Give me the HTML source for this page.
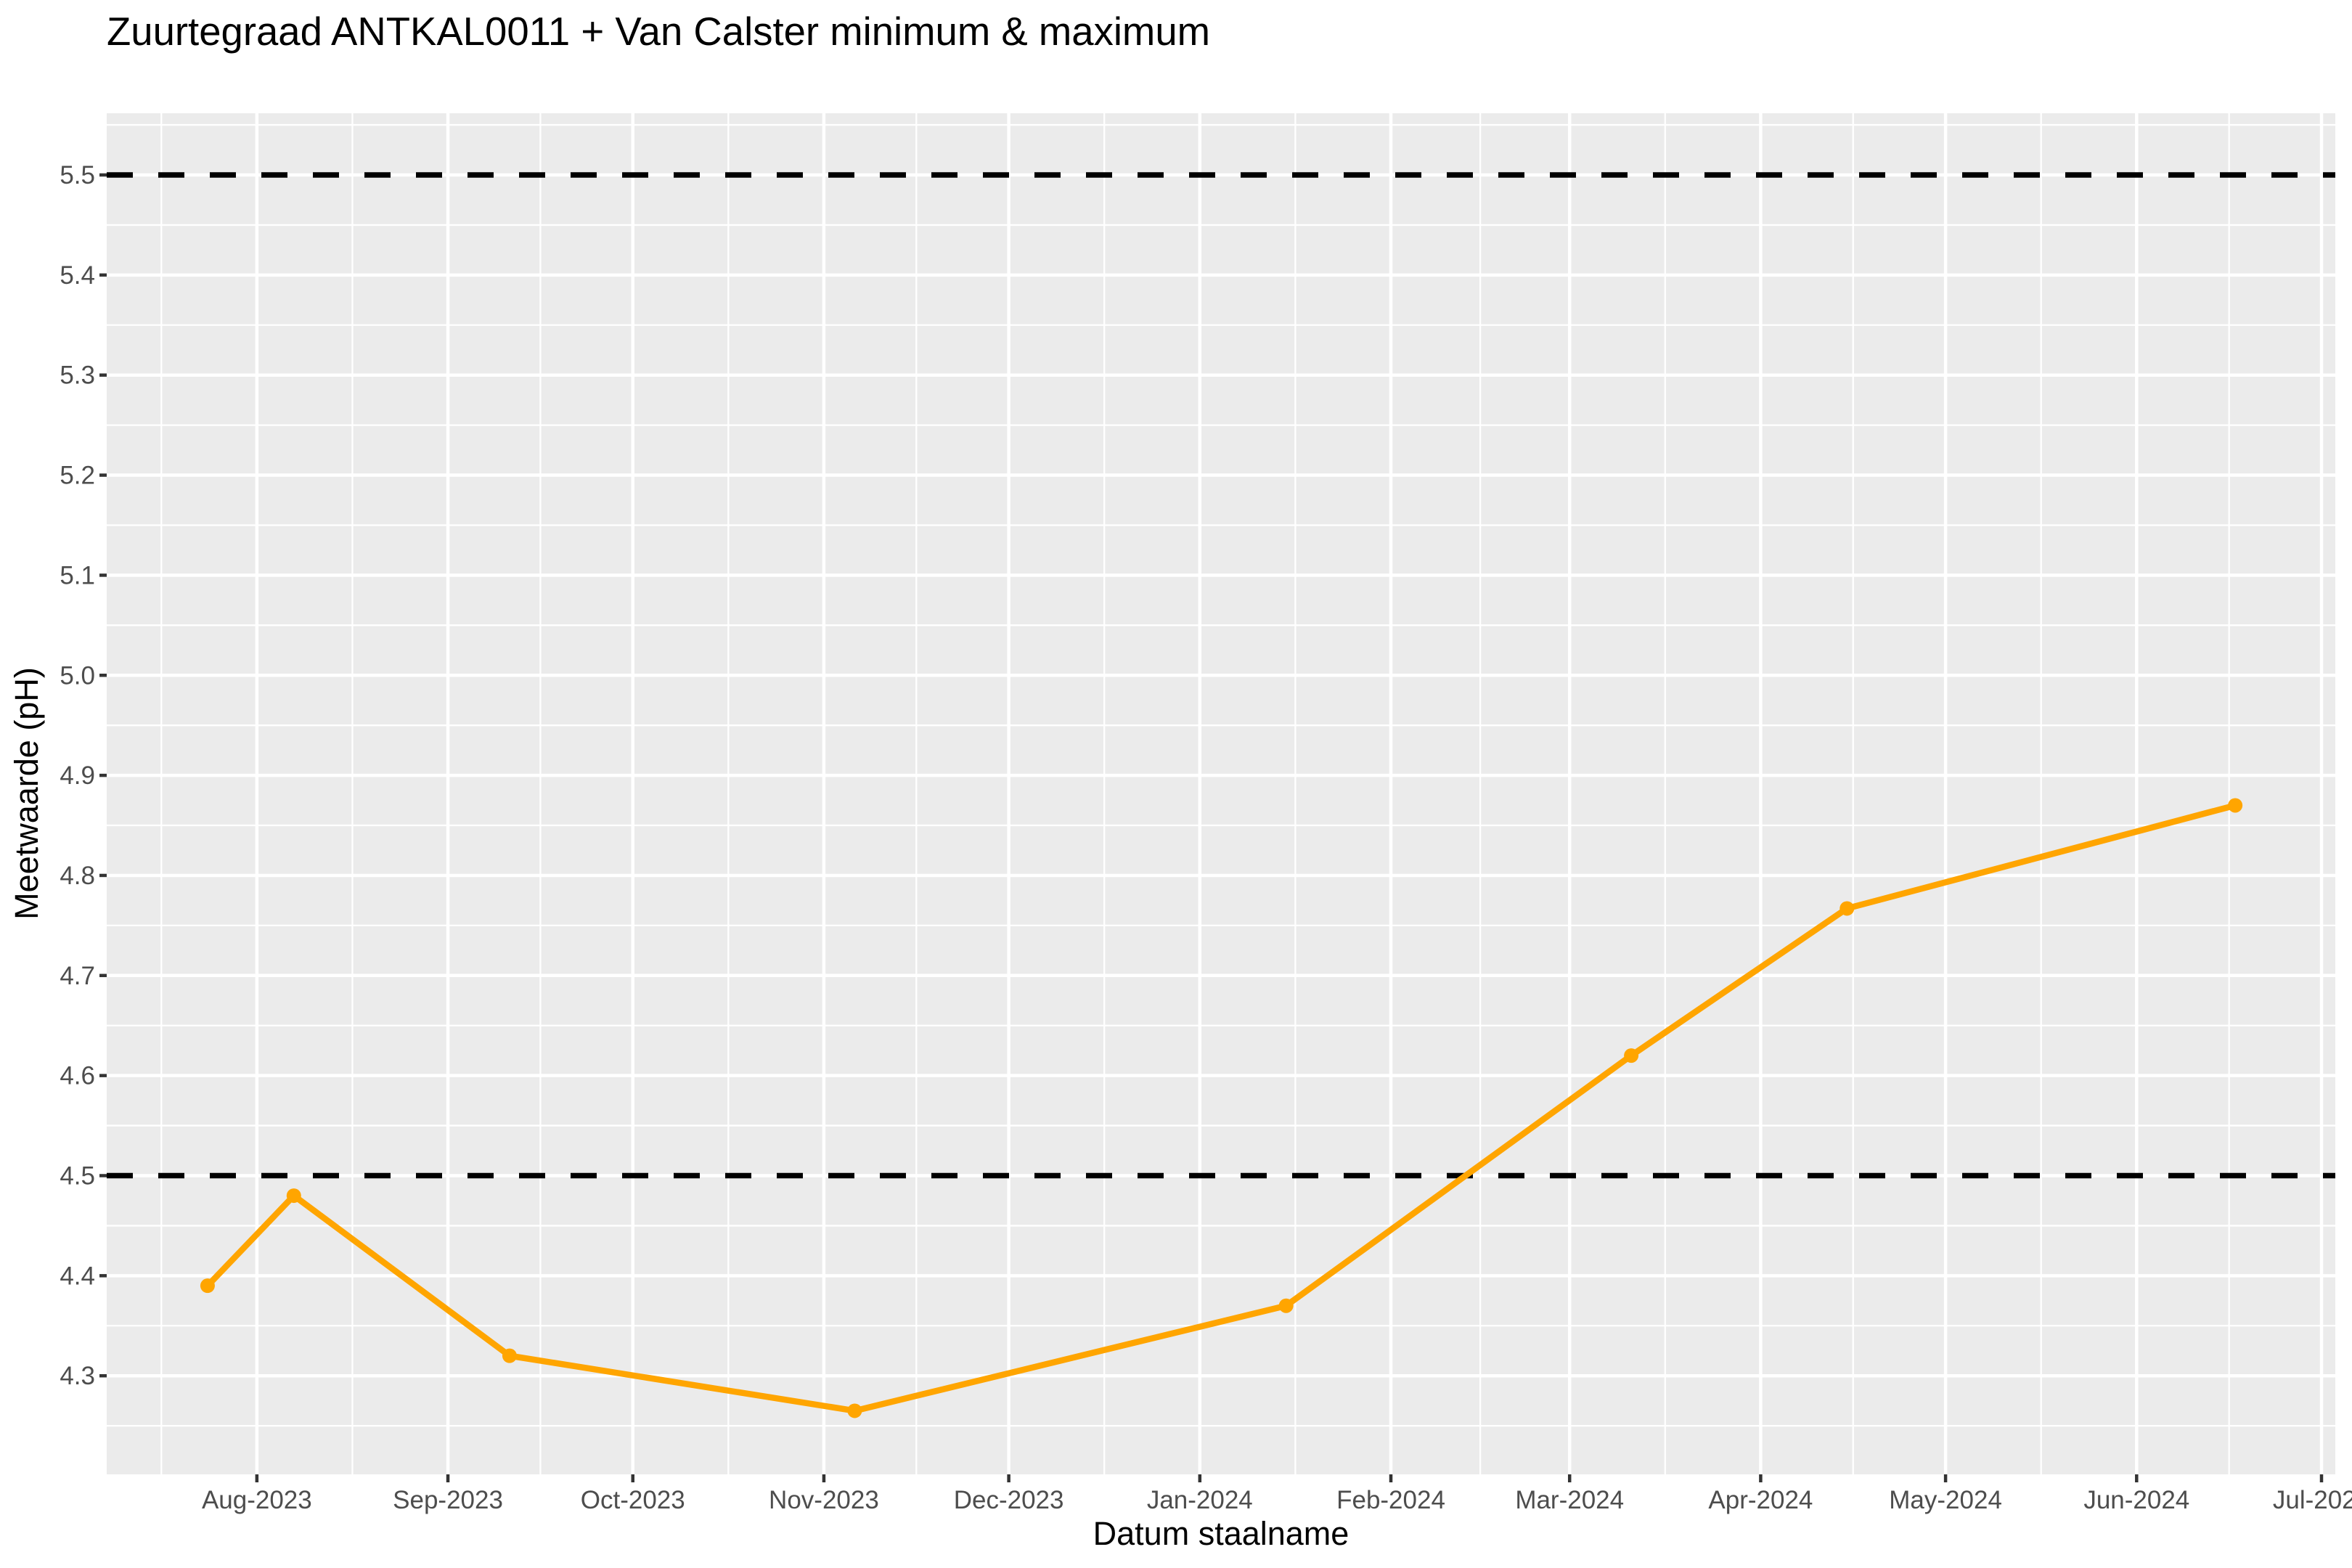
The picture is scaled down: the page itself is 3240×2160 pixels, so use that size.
<!DOCTYPE html>
<html><head><meta charset="utf-8"><style>
html,body{margin:0;padding:0;background:#fff;}
svg{display:block;font-family:"Liberation Sans",Arial,sans-serif;}
</style></head><body>
<svg id="chart" width="3240" height="2160" viewBox="0 0 3240 2160" xmlns="http://www.w3.org/2000/svg">
<text x="147" y="62" font-size="54.5" fill="#000">Zuurtegraad ANTKAL0011 + Van Calster minimum &amp; maximum</text>
<rect x="147" y="156" width="3070" height="1875" fill="#ebebeb"/>
<g id="grid"></g><g id="axes"></g><g id="marks"></g>
<text x="1682" y="2128" font-size="45" text-anchor="middle" fill="#000">Datum staalname</text>
<text transform="translate(52,1093) rotate(-90)" font-size="45" text-anchor="middle" fill="#000">Meetwaarde (pH)</text>
</svg>
<script>
const dates = ["2023-07-24","2023-08-07","2023-09-11","2023-11-06","2024-01-15","2024-03-11","2024-04-15","2024-06-17"];
const phValues = [4.39,4.48,4.32,4.265,4.37,4.62,4.767,4.87];
const limits = [4.5,5.5];
const yTicks = [4.3,4.4,4.5,4.6,4.7,4.8,4.9,5.0,5.1,5.2,5.3,5.4,5.5];
const xTickDates = ["2023-08-01","2023-09-01","2023-10-01","2023-11-01","2023-12-01","2024-01-01","2024-02-01","2024-03-01","2024-04-01","2024-05-01","2024-06-01","2024-07-01"];
const xTickLabels = ["Aug-2023","Sep-2023","Oct-2023","Nov-2023","Dec-2023","Jan-2024","Feb-2024","Mar-2024","Apr-2024","May-2024","Jun-2024","Jul-2024"];

const NS="http://www.w3.org/2000/svg";
const PL=147,PR=3217,PT=156,PB=2031;
const refT=Date.UTC(2024,6,1);
function xs(d){const t=Date.parse(d+"T00:00:00Z");return 3198+(t-refT)/86400000*8.49;}
function ys(v){return 241+(5.5-v)*1378.5;}
function mk(tag,attrs,parent){const e=document.createElementNS(NS,tag);for(const k in attrs)e.setAttribute(k,attrs[k]);parent.appendChild(e);return e;}
const grid=document.getElementById('grid'),axes=document.getElementById('axes'),marks=document.getElementById('marks');

for(let i=0;i<yTicks.length+1;i++){
  const v=4.25+i*0.1;const y=ys(v);
  if(y<PT||y>PB)continue;
  const l=mk('line',{x1:PL,x2:PR,y1:y,y2:y,stroke:'#fff','stroke-width':2.3},grid);
  
  
}
const xt=xTickDates.map(xs);
const minors=[xt[0]-(xt[1]-xt[0])/2];
for(let i=0;i<xt.length-1;i++)minors.push((xt[i]+xt[i+1])/2);
minors.push(xt[xt.length-1]+15*8.49);
minors.forEach(x=>{
  if(x<PL||x>PR)return;
  const l=mk('line',{x1:x,x2:x,y1:PT,y2:PB,stroke:'#fff','stroke-width':2.3},grid);
  
  
});
yTicks.forEach(v=>{
  const y=ys(v);
  const l=mk('line',{x1:PL,x2:PR,y1:y,y2:y,stroke:'#fff','stroke-width':4.5},grid);
  
  
  const t=mk('line',{x1:PL-10,x2:PL,y1:y,y2:y,stroke:'#333','stroke-width':4.5},axes);
  
  
  const tx=mk('text',{x:PL-16,y:y+12,'font-size':35,fill:'#4d4d4d','text-anchor':'end'},axes);
  tx.textContent=v.toFixed(1);
  
  
});
xTickDates.forEach((d,i)=>{
  const x=xs(d);
  const l=mk('line',{x1:x,x2:x,y1:PT,y2:PB,stroke:'#fff','stroke-width':4.5},grid);
  
  
  const t=mk('line',{x1:x,x2:x,y1:PB,y2:PB+11,stroke:'#333','stroke-width':4.5},axes);
  
  
  const tx=mk('text',{x:x,y:2078,'font-size':35,fill:'#4d4d4d','text-anchor':'middle'},axes);
  tx.textContent=xTickLabels[i];
  
  
});
limits.forEach(v=>{
  const y=ys(v);
  const l=mk('line',{x1:PL,x2:PR,y1:y,y2:y,stroke:'#000','stroke-width':7.5,'stroke-dasharray':'36 35'},marks);
  
  
});
const pts=dates.map((d,i)=>xs(d)+','+ys(phValues[i])).join(' ');
const pl=mk('polyline',{points:pts,fill:'none',stroke:'#ffa500','stroke-width':8.5,'stroke-linejoin':'round'},marks);


dates.forEach((d,i)=>{
  const c=mk('circle',{cx:xs(d),cy:ys(phValues[i]),r:10,fill:'#ffa500'},marks);
  
  
});
</script>
</body></html>
